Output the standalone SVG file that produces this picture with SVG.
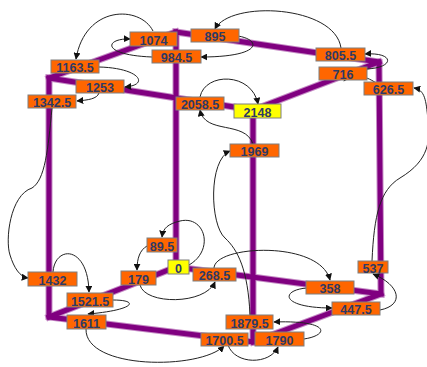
<svg xmlns="http://www.w3.org/2000/svg" width="427" height="367" viewBox="0 0 427 367">
<defs>
<style>
.halo{stroke:#c58bc5;stroke-width:7;fill:none;stroke-linecap:square;stroke-linejoin:miter}
.cube{stroke:#800080;stroke-width:5;fill:none;stroke-linecap:square;stroke-linejoin:miter}
.e{stroke:#222;stroke-width:1;fill:none;marker-end:url(#ah)}
.o{fill:#ff6600;stroke:#7f7f7f;stroke-width:1}
.y{fill:#ffff00;stroke:#7f7f7f;stroke-width:1}
text{font-family:"Liberation Sans",Arial,sans-serif;font-size:12.5px;font-weight:bold;fill:#2e3a66;text-anchor:middle}
</style>
<marker id="ah" viewBox="0 0 10 10" refX="9" refY="5" markerWidth="7" markerHeight="7" markerUnits="userSpaceOnUse" orient="auto">
<path d="M0,0 L10,5 L0,10 z" fill="#111"/>
</marker>
</defs>
<g id="cube">
<g class="halo">
<path d="M176,32 L379,62 L381,294 L176,267 Z"/>
<path d="M49,78 L253,110 L253,342 L49,317 Z"/>
<path d="M176,32 L49,78 M379,62 L253,110 M381,294 L253,342 M176,267 L49,317"/>
</g>
<g class="cube">
<path d="M176,32 L379,62 L381,294 L176,267 Z"/>
<path d="M49,78 L253,110 L253,342 L49,317 Z"/>
<path d="M176,32 L49,78 M379,62 L253,110 M381,294 L253,342 M176,267 L49,317"/>
</g>
</g>
<g id="connectors">
<path class="e" d="M153,31 C140,5 85,5 76,59"/>
<path class="e" d="M152,57 C100,55 105,38 130,39"/>
<path class="e" d="M238,36 C262,40 262,57 201,57"/>
<path class="e" d="M341,48 C335,5 230,0 215,29"/>
<path class="e" d="M366,69 C395,68 395,52 365,54"/>
<path class="e" d="M376,83 C365,75 350,73 344,81"/>
<path class="e" d="M372,261 C374,215 380,190 400,178 C430,160 430,140 428,120 C426,100 425,90 414,88"/>
<path class="e" d="M200,97 C205,72 252,72 258,104"/>
<path class="e" d="M253,144 C245,120 205,135 200,110"/>
<path class="e" d="M250,315 C248,270 238,250 225,238 C210,225 208,160 230,151"/>
<path class="e" d="M52,108 C48,150 45,180 32,188 C10,195 5,240 10,255 C14,268 20,277 28,278"/>
<path class="e" d="M99,93 C97,99 88,100 77,101"/>
<path class="e" d="M99,67 C140,68 150,85 125,87"/>
<path class="e" d="M53,272 C55,245 88,245 89,292"/>
<path class="e" d="M113,300 C140,300 135,310 88,314"/>
<path class="e" d="M86,329 C85,370 200,370 224,346"/>
<path class="e" d="M228,345 C235,365 270,365 278,347"/>
<path class="e" d="M304,339 C330,335 330,320 274,322"/>
<path class="e" d="M307,288 C280,290 280,308 332,308"/>
<path class="e" d="M214,268 C215,245 320,240 330,280"/>
<path class="e" d="M140,285 C145,305 205,305 215,282"/>
<path class="e" d="M189,265 C215,250 205,215 180,221 C168,224 163,228 162,237"/>
<path class="e" d="M147,246 C140,250 137,258 137,270"/>
<path class="e" d="M380,310 C405,305 400,285 373,274"/>
</g>
<g id="n1074"><rect class="o" x="130" y="32" width="47" height="14"/><text x="153.5" y="44.5">1074</text></g>
<g id="n895"><rect class="o" x="191" y="29" width="48" height="13"/><text x="215" y="41">895</text></g>
<g id="n984_5"><rect class="o" x="152" y="50" width="49" height="13"/><text x="176.5" y="62">984.5</text></g>
<g id="n1163_5"><rect class="o" x="51" y="60" width="48" height="13"/><text x="75" y="72">1163.5</text></g>
<g id="n1253"><rect class="o" x="76" y="80" width="48" height="13"/><text x="100" y="92">1253</text></g>
<g id="n1342_5"><rect class="o" x="28" y="95" width="48" height="13"/><text x="52" y="107">1342.5</text></g>
<g id="n2058_5"><rect class="o" x="176" y="97" width="48" height="13"/><text x="200" y="109">2058.5</text></g>
<g id="n2148"><rect class="y" x="234" y="104" width="47" height="14"/><text x="257.5" y="116.5">2148</text></g>
<g id="n1969"><rect class="o" x="230" y="144" width="49" height="13"/><text x="254.5" y="156">1969</text></g>
<g id="n805_5"><rect class="o" x="316" y="48" width="49" height="13"/><text x="340.5" y="60">805.5</text></g>
<g id="n716"><rect class="o" x="319" y="67" width="48" height="13"/><text x="343" y="79">716</text></g>
<g id="n626_5"><rect class="o" x="364" y="82" width="49" height="13"/><text x="388.5" y="94">626.5</text></g>
<g id="n89_5"><rect class="o" x="147" y="238" width="30" height="14"/><text x="162" y="250.5">89.5</text></g>
<g id="n0"><rect class="y" x="168" y="260" width="21" height="14"/><text x="178.5" y="272.5">0</text></g>
<g id="n179"><rect class="o" x="121" y="271" width="35" height="14"/><text x="138.5" y="283.5">179</text></g>
<g id="n268_5"><rect class="o" x="193" y="268" width="43" height="13"/><text x="214.5" y="280">268.5</text></g>
<g id="n358"><rect class="o" x="306" y="281" width="48" height="13"/><text x="330" y="293">358</text></g>
<g id="n537"><rect class="o" x="358" y="261" width="30" height="12"/><text x="373" y="272.5">537</text></g>
<g id="n447_5"><rect class="o" x="332" y="302" width="48" height="13"/><text x="356" y="314">447.5</text></g>
<g id="n1879_5"><rect class="o" x="226" y="315" width="47" height="14"/><text x="249.5" y="327.5">1879.5</text></g>
<g id="n1790"><rect class="o" x="255" y="332" width="49" height="14"/><text x="279.5" y="344.5">1790</text></g>
<g id="n1700_5"><rect class="o" x="201" y="333" width="47" height="13"/><text x="224.5" y="345">1700.5</text></g>
<g id="n1611"><rect class="o" x="67" y="315" width="39" height="14"/><text x="86.5" y="327.5">1611</text></g>
<g id="n1521_5"><rect class="o" x="67" y="293" width="46" height="14"/><text x="90" y="305.5">1521.5</text></g>
<g id="n1432"><rect class="o" x="28" y="272" width="49" height="14"/><text x="52.5" y="284.5">1432</text></g>
</svg>
